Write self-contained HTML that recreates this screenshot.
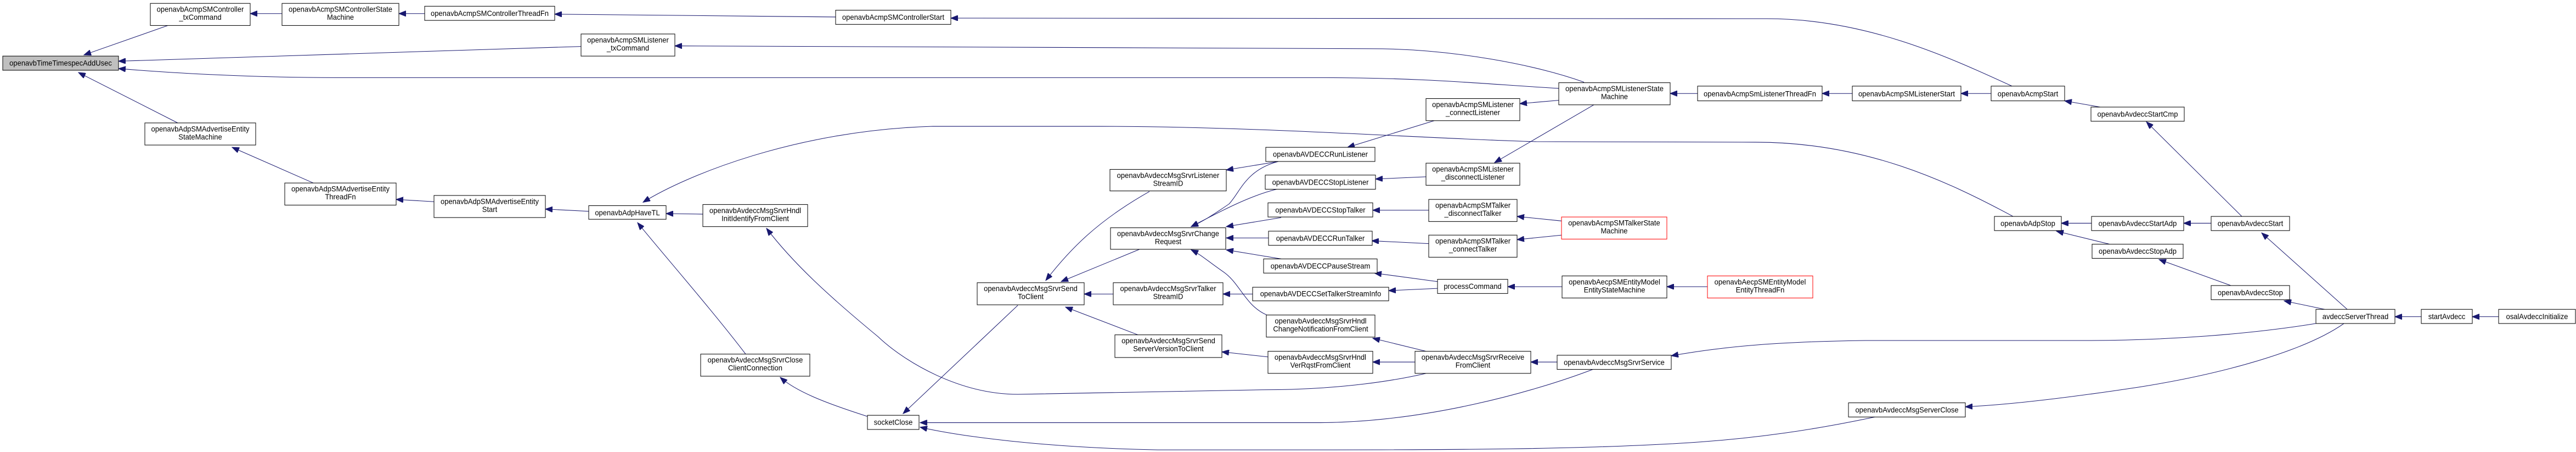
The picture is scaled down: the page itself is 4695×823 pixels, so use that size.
<!DOCTYPE html>
<html><head><meta charset="utf-8"><style>
html,body{margin:0;padding:0;background:#fff;width:4695px;height:823px;overflow:hidden}
svg{display:block}
text{font-family:"Liberation Sans",Helvetica,Arial,sans-serif;font-size:13px;fill:#000;text-anchor:middle}
rect{fill:#fff;stroke:#000;stroke-width:1}
.r{stroke:#ff0000}
.g{fill:#bfbfbf}
path.e{fill:none;stroke:#191970;stroke-width:1;marker-end:url(#a)}
</style></head><body>
<svg width="4695" height="823" viewBox="0 0 4695 823" xmlns="http://www.w3.org/2000/svg">
<defs><marker id="a" markerUnits="userSpaceOnUse" markerWidth="14" markerHeight="10" refX="13" refY="5" orient="auto"><path d="M0,0 L13,5 L0,10 z" fill="#191970" stroke="#191970"/></marker></defs>
<g transform="scale(1,1.0316)">
<path class="e" d="M306,45 L153,97"/>
<path class="e" d="M514,24 L456,24"/>
<path class="e" d="M774,24 L727,24"/>
<path class="e" d="M1523,30 L1011,25"/>
<path class="e" d="M3667,152 C3550,100 3400,33 3220,33 L1733,32"/>
<path class="e" d="M1059,82 L216,108"/>
<path class="e" d="M2887,145 C2800,115 2650,86 2500,86 L1230,81"/>
<path class="e" d="M2841,156 C2700,148 2600,137 2400,137 L612,137 C450,137 300,128 216,121"/>
<path class="e" d="M324,217 L143,128"/>
<path class="e" d="M571,323 L423,260"/>
<path class="e" d="M791,356 L722,352"/>
<path class="e" d="M1073,373 L994,369"/>
<path class="e" d="M1281,378 L1214,377"/>
<path class="e" d="M3669,382 C3550,320 3400,251 3200,251 L2800,250 C2600,245 2300,223 2000,223 L1700,223 C1450,230 1250,310 1172,357"/>
<path class="e" d="M1359,625 C1300,550 1210,450 1162,393"/>
<path class="e" d="M1581,735 C1500,710 1450,690 1422,666"/>
<path class="e" d="M2599,659 C2550,670 2450,688 2300,688 L1855,696 C1750,696 1650,640 1600,594 C1520,530 1450,470 1397,403"/>
<path class="e" d="M1855,539 L1646,730"/>
<path class="e" d="M2095,338 C2000,390 1950,440 1906,495"/>
<path class="e" d="M2077,440 L1934,497"/>
<path class="e" d="M2029,519 L1976,519"/>
<path class="e" d="M2074,591 L1942,542"/>
<path class="e" d="M2330,285 L2235,300"/>
<path class="e" d="M2330,285 C2270,300 2260,340 2240,360 C2210,380 2190,392 2171,400"/>
<path class="e" d="M2327,334 C2280,345 2230,370 2171,400"/>
<path class="e" d="M2335,384 L2235,400"/>
<path class="e" d="M2312,420 L2235,420"/>
<path class="e" d="M2335,457 L2235,441"/>
<path class="e" d="M2309,556 C2270,540 2260,500 2230,480 C2200,460 2190,450 2171,441"/>
<path class="e" d="M2283,519 L2229,519"/>
<path class="e" d="M2311,630 L2227,621"/>
<path class="e" d="M2841,177 L2770,183"/>
<path class="e" d="M2614,213 L2456,260"/>
<path class="e" d="M2905,185 L2724,287"/>
<path class="e" d="M2599,312 L2507,316"/>
<path class="e" d="M2604,371 L2502,371"/>
<path class="e" d="M2846,390 L2765,382"/>
<path class="e" d="M2846,415 L2765,423"/>
<path class="e" d="M2604,430 L2500,425"/>
<path class="e" d="M2620,497 L2505,482"/>
<path class="e" d="M2620,509 L2531,513"/>
<path class="e" d="M2847,506 L2748,506"/>
<path class="e" d="M3112,506 L3038,506"/>
<path class="e" d="M2599,620 L2502,597"/>
<path class="e" d="M2579,639 L2502,639"/>
<path class="e" d="M2838,639 L2790,639"/>
<path class="e" d="M4221,571 C4100,590 3950,601 3800,601 L3400,601 C3250,603 3150,610 3046,628"/>
<path class="e" d="M2903,652 C2800,690 2600,746 2400,746 L1677,746"/>
<path class="e" d="M3417,736 C3300,760 3200,773 3100,780 C2900,794 2600,794 2400,794 L2110,794 C1900,790 1750,770 1677,754"/>
<path class="e" d="M4272,571 C4200,620 4050,660 3900,683 C3750,705 3650,715 3582,718"/>
<path class="e" d="M3094,165 L3044,165"/>
<path class="e" d="M3376,165 L3321,165"/>
<path class="e" d="M3629,165 L3574,165"/>
<path class="e" d="M3828,189 L3763,178"/>
<path class="e" d="M3812,394 L3757,394"/>
<path class="e" d="M3845,431 L3748,408"/>
<path class="e" d="M4086,382 L3912,215"/>
<path class="e" d="M4030,394 L3980,394"/>
<path class="e" d="M4066,504 L3935,458"/>
<path class="e" d="M4278,546 L4122,411"/>
<path class="e" d="M4237,546 L4163,531"/>
<path class="e" d="M4413,559 L4365,559"/>
<path class="e" d="M4554,559 L4506,559"/>
<rect class="g" x="5" y="99" width="211" height="25"/><text x="110.5" y="116">openavbTimeTimespecAddUsec</text>
<rect x="274" y="6" width="182" height="39"/><text x="365" y="21">openavbAcmpSMController</text><text x="365" y="35">_txCommand</text>
<rect x="514" y="6" width="213" height="39"/><text x="620.5" y="21">openavbAcmpSMControllerState</text><text x="620.5" y="35">Machine</text>
<rect x="774" y="11" width="237" height="25"/><text x="892.5" y="28">openavbAcmpSMControllerThreadFn</text>
<rect x="1523" y="18" width="210" height="25"/><text x="1628" y="35">openavbAcmpSMControllerStart</text>
<rect x="1059" y="60" width="171" height="39"/><text x="1144.5" y="75">openavbAcmpSMListener</text><text x="1144.5" y="89">_txCommand</text>
<rect x="264" y="217" width="202" height="39"/><text x="365" y="232">openavbAdpSMAdvertiseEntity</text><text x="365" y="246">StateMachine</text>
<rect x="519" y="323" width="203" height="39"/><text x="620.5" y="338">openavbAdpSMAdvertiseEntity</text><text x="620.5" y="352">ThreadFn</text>
<rect x="791" y="345" width="203" height="39"/><text x="892.5" y="360">openavbAdpSMAdvertiseEntity</text><text x="892.5" y="374">Start</text>
<rect x="1073" y="363" width="141" height="24"/><text x="1143.5" y="380">openavbAdpHaveTL</text>
<rect x="1281" y="361" width="191" height="39"/><text x="1376.5" y="376">openavbAvdeccMsgSrvrHndl</text><text x="1376.5" y="390">InitIdentifyFromClient</text>
<rect x="1277" y="625" width="199" height="39"/><text x="1376.5" y="640">openavbAvdeccMsgSrvrClose</text><text x="1376.5" y="654">ClientConnection</text>
<rect x="1581" y="733" width="94" height="25"/><text x="1628" y="750">socketClose</text>
<rect x="1781" y="499" width="195" height="39"/><text x="1878.5" y="514">openavbAvdeccMsgSrvrSend</text><text x="1878.5" y="528">ToClient</text>
<rect x="2023" y="299" width="212" height="38"/><text x="2129" y="314">openavbAvdeccMsgSrvrListener</text><text x="2129" y="328">StreamID</text>
<rect x="2024" y="402" width="210" height="38"/><text x="2129" y="417">openavbAvdeccMsgSrvrChange</text><text x="2129" y="431">Request</text>
<rect x="2029" y="499" width="200" height="39"/><text x="2129" y="514">openavbAvdeccMsgSrvrTalker</text><text x="2129" y="528">StreamID</text>
<rect x="2032" y="591" width="195" height="40"/><text x="2129.5" y="606">openavbAvdeccMsgSrvrSend</text><text x="2129.5" y="620">ServerVersionToClient</text>
<rect x="2307" y="260" width="199" height="25"/><text x="2406.5" y="277">openavbAVDECCRunListener</text>
<rect x="2306" y="309" width="201" height="25"/><text x="2406.5" y="326">openavbAVDECCStopListener</text>
<rect x="2311" y="358" width="191" height="25"/><text x="2406.5" y="375">openavbAVDECCStopTalker</text>
<rect x="2312" y="408" width="189" height="25"/><text x="2406.5" y="425">openavbAVDECCRunTalker</text>
<rect x="2303" y="457" width="207" height="25"/><text x="2406.5" y="474">openavbAVDECCPauseStream</text>
<rect x="2283" y="507" width="248" height="24"/><text x="2407" y="523">openavbAVDECCSetTalkerStreamInfo</text>
<rect x="2308" y="556" width="198" height="39"/><text x="2407" y="571">openavbAvdeccMsgSrvrHndl</text><text x="2407" y="585">ChangeNotificationFromClient</text>
<rect x="2311" y="620" width="191" height="39"/><text x="2406.5" y="635">openavbAvdeccMsgSrvrHndl</text><text x="2406.5" y="649">VerRqstFromClient</text>
<rect x="2841" y="146" width="203" height="39"/><text x="2942.5" y="161">openavbAcmpSMListenerState</text><text x="2942.5" y="175">Machine</text>
<rect x="2599" y="174" width="171" height="39"/><text x="2684.5" y="189">openavbAcmpSMListener</text><text x="2684.5" y="203">_connectListener</text>
<rect x="2599" y="288" width="171" height="39"/><text x="2684.5" y="303">openavbAcmpSMListener</text><text x="2684.5" y="317">_disconnectListener</text>
<rect x="2604" y="352" width="161" height="39"/><text x="2684.5" y="367">openavbAcmpSMTalker</text><text x="2684.5" y="381">_disconnectTalker</text>
<rect x="2604" y="415" width="161" height="39"/><text x="2684.5" y="430">openavbAcmpSMTalker</text><text x="2684.5" y="444">_connectTalker</text>
<rect class="r" x="2846" y="383" width="192" height="39"/><text x="2942" y="398">openavbAcmpSMTalkerState</text><text x="2942" y="412">Machine</text>
<rect x="2620" y="493" width="128" height="25"/><text x="2684" y="510">processCommand</text>
<rect x="2847" y="487" width="191" height="39"/><text x="2942.5" y="502">openavbAecpSMEntityModel</text><text x="2942.5" y="516">EntityStateMachine</text>
<rect class="r" x="3112" y="487" width="192" height="39"/><text x="3208" y="502">openavbAecpSMEntityModel</text><text x="3208" y="516">EntityThreadFn</text>
<rect x="2579" y="620" width="211" height="39"/><text x="2684.5" y="635">openavbAvdeccMsgSrvrReceive</text><text x="2684.5" y="649">FromClient</text>
<rect x="2838" y="627" width="208" height="25"/><text x="2942" y="644">openavbAvdeccMsgSrvrService</text>
<rect x="3094" y="152" width="227" height="26"/><text x="3207.5" y="170">openavbAcmpSmListenerThreadFn</text>
<rect x="3376" y="152" width="198" height="26"/><text x="3475" y="170">openavbAcmpSMListenerStart</text>
<rect x="3629" y="152" width="134" height="26"/><text x="3696" y="170">openavbAcmpStart</text>
<rect x="3811" y="189" width="170" height="25"/><text x="3896" y="206">openavbAvdeccStartCmp</text>
<rect x="3635" y="382" width="122" height="25"/><text x="3696" y="399">openavbAdpStop</text>
<rect x="3812" y="382" width="168" height="25"/><text x="3896" y="399">openavbAvdeccStartAdp</text>
<rect x="3813" y="431" width="166" height="25"/><text x="3896" y="448">openavbAvdeccStopAdp</text>
<rect x="3369" y="711" width="213" height="25"/><text x="3475.5" y="728">openavbAvdeccMsgServerClose</text>
<rect x="4030" y="382" width="143" height="25"/><text x="4101.5" y="399">openavbAvdeccStart</text>
<rect x="4030" y="504" width="143" height="25"/><text x="4101.5" y="521">openavbAvdeccStop</text>
<rect x="4221" y="546" width="144" height="25"/><text x="4293" y="563">avdeccServerThread</text>
<rect x="4413" y="546" width="93" height="25"/><text x="4459.5" y="563">startAvdecc</text>
<rect x="4554" y="546" width="140" height="25"/><text x="4624" y="563">osalAvdeccInitialize</text>
</g>
</svg>
</body></html>
